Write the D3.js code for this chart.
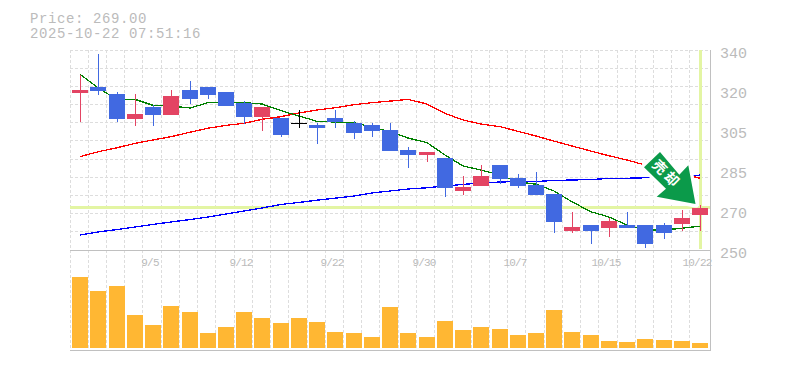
<!DOCTYPE html>
<html><head><meta charset="utf-8">
<style>html,body{margin:0;padding:0;background:#fff}svg{display:block}text{font-family:"Liberation Mono",monospace;fill:#bbb}</style>
<script src="https://cdn.jsdelivr.net/npm/d3@7"></script></head><body>
<div id="c"></div>
<script>
const opens=[320.65,323.35,320.2,308.95,314.35,310.75,322,323.35,321.1,316.15,309.85,309.4,307,306.25,309.4,307.15,306.25,304,295,292.75,291.4,276.55,278.8,288.25,282.4,279.25,275.2,258.55,261.25,259.9,261.25,261.25,261.25,261.7,265.75];
const closes=[322,321.55,308.95,311.2,310.75,319.3,317.95,319.75,314.8,309.85,314.35,301.75,307,304.9,307.6,302.65,303.55,294.55,292.75,294.1,277.9,278.35,283.3,281.95,278.8,274.75,262.6,260.35,258.55,263.05,259.9,252.7,257.65,264.4,269];
const highs=[328.75,338.2,321.1,320.2,315.25,322,326.05,323.35,321.1,317.05,314.35,309.4,313,307.15,313,308.05,307.15,307.15,296.35,294.1,291.4,283.3,288.25,288.25,284.2,285.1,275.2,267.1,261.25,264.4,267.1,261.25,262.15,268,270.25];
const lows=[307.7,319.75,307.7,305.8,305.8,310.75,315.7,317.95,314.8,306.7,303.55,300.85,305,297.7,304.9,299.95,300.85,294.55,286.9,289.6,273.85,274.75,278.8,279.7,277.9,274.75,257.65,257.65,252.7,255.85,259.9,250.9,254.95,258.55,258.55];
const volumes=[21200,17000,18500,9800,6800,12500,10700,4400,6200,10700,8900,7400,8900,7700,4700,4400,3200,12200,4400,3200,8000,5300,6200,5600,3800,4400,11300,4700,3800,2000,1700,2600,2300,2000,1400];
const maShort=[329.1,323,317.7,317.8,315.1,314.8,313.9,316.3,316.6,316.3,315.7,312.7,310.3,307.9,307.6,307.3,305.35,303.2,300.4,298.3,292.75,287.8,286,283.75,280.7,279.6,276.55,271.7,267.2,264.85,261.25,259,259,259.8,260.7];
const maMid=[292,294.2,296,298,299.5,301,303,304.8,306.1,307,308.8,310,311.65,313,314,315.4,316.3,317,317.8,315.7,311.5,308.5,306.7,305.5,303.4,301.3,299,296.8,294.5,292.4,290.5,288.25,286,284.2,282.3];
const maLong=[256.75,258.1,259.2,260.35,261.5,262.6,263.7,264.85,266.2,267.55,268.9,270.5,271.4,272.4,273.3,274.3,275.65,276.55,277.45,278,278.8,279.5,280.15,280.6,280.8,280.8,281.3,281.5,281.7,282.2,282.3,282.5,282.7,282.85,283.75];
const priceTicks=[340,322,304,286,268,250];
const priceTickLabels=["340","320","305","285","270","250"];
const dateLabels=[[4,"9/5"],[9,"9/12"],[14,"9/22"],[19,"9/30"],[24,"10/7"],[29,"10/15"],[34,"10/22"]];
const currentPrice=269;
const arrowShape=[[660,152],[644,167.3],[666,188.7],[656.7,196.7],[695.5,204],[688.3,165.3],[679.3,174.7]];

const W=785,H=370,L=70,R=710,T=50,B=250,VB=348,n=closes.length;
const svg=d3.select("#c").append("svg").attr("width",W).attr("height",H);
const x=d3.scaleBand().domain(d3.range(n)).range([L,L+18.235*n]);
const cx=i=>Math.round(x(i)+x.bandwidth()/2+1);
const y=d3.scaleLinear().domain([250,340]).range([B,T]);
const yv=d3.scaleLinear().domain([0,30000]).range([VB,VB-100]);
const gridC="#ddd";
const g=svg.append("g").attr("shape-rendering","crispEdges");
// grid
g.selectAll(".v").data(d3.range(0,n)).join("line")
 .attr("x1",i=>Math.floor(x(i))+.5).attr("x2",i=>Math.floor(x(i))+.5).attr("y1",T).attr("y2",350)
 .attr("stroke",gridC).attr("stroke-dasharray","3 2");
g.selectAll(".h").data(d3.range(0,11)).join("line")
 .attr("x1",L).attr("x2",R).attr("y1",i=>Math.floor(T+i*200/11)+.5).attr("y2",i=>Math.floor(T+i*200/11)+.5)
 .attr("stroke",gridC).attr("stroke-dasharray","3 2");
// borders
[[L,B,R,B],[L,350,R,350]].forEach(p=>g.append("line").attr("x1",p[0]).attr("y1",p[1]+.5).attr("x2",p[2]+1).attr("y2",p[3]+.5).attr("stroke","#c0c0c0"));
g.append("line").attr("x1",R+.5).attr("x2",R+.5).attr("y1",T).attr("y2",351).attr("stroke","#c0c0c0");
// current price lines
g.append("rect").attr("x",L).attr("width",R-L).attr("y",Math.floor(y(currentPrice))-1).attr("height",3).attr("fill","#e3f5a3");
g.append("rect").attr("x",cx(n-1)-1).attr("width",3).attr("y",T).attr("height",199).attr("fill","#e3f5a3");
// volume
g.selectAll(".vol").data(volumes).join("rect")
 .attr("x",(d,i)=>cx(i)-8).attr("width",16).attr("y",d=>yv(d)).attr("height",d=>VB-yv(d)).attr("fill","#ffb733");
// moving averages
const line=d3.line().x((d,i)=>cx(i)).y(d=>y(d));
[[maLong,"#0000ff"],[maMid,"#ff0000"],[maShort,"#008000"]].forEach(([a,c])=>{
 g.append("path").attr("d",line(a)).attr("fill","none").attr("stroke",c).attr("stroke-width",1.3);
});
// candles
const up="#e34463",down="#4169e1";
const col=i=>closes[i]>opens[i]?up:closes[i]<opens[i]?down:"#000";
g.selectAll(".w").data(d3.range(n)).join("line")
 .attr("x1",i=>cx(i)+.5).attr("x2",i=>cx(i)+.5).attr("y1",i=>y(highs[i])).attr("y2",i=>y(lows[i])).attr("stroke",col);
g.selectAll(".b").data(d3.range(n)).join("rect")
 .attr("x",i=>cx(i)-8).attr("width",16)
 .attr("y",i=>y(Math.max(opens[i],closes[i])))
 .attr("height",i=>Math.max(1,Math.abs(y(opens[i])-y(closes[i]))))
 .attr("fill",col);
// arrow
svg.append("polygon").attr("points",arrowShape.join(" ")).attr("fill","#0b9a4a").attr("stroke","#fff").attr("stroke-width",7).attr("paint-order","stroke").attr("stroke-linejoin","round");
svg.append("text").attr("transform","translate(666,175) rotate(45)").attr("text-anchor","middle").attr("dominant-baseline","middle")
 .style("font-family","'Noto Sans CJK JP'").style("font-size","14px").style("font-weight","700").style("fill","#fff").attr("letter-spacing","3").text("売却");
// text
svg.append("text").attr("x",30).attr("y",23).style("font-size","14px").attr("letter-spacing",".6").text("Price: "+currentPrice.toFixed(2));
svg.append("text").attr("x",30).attr("y",38).style("font-size","14px").attr("letter-spacing",".6").text("2025-10-22 07:51:16");
svg.selectAll(".yl").data(priceTicks).join("text").attr("x",720).attr("y",d=>y(d)+8).style("font-size","15px").text((d,i)=>priceTickLabels[i]);
svg.selectAll(".xl").data(dateLabels).join("text").attr("x",d=>cx(d[0])-3).attr("y",266).attr("text-anchor","middle").style("font-size","11px").attr("letter-spacing","-.8").text(d=>d[1]);
</script></body></html>
